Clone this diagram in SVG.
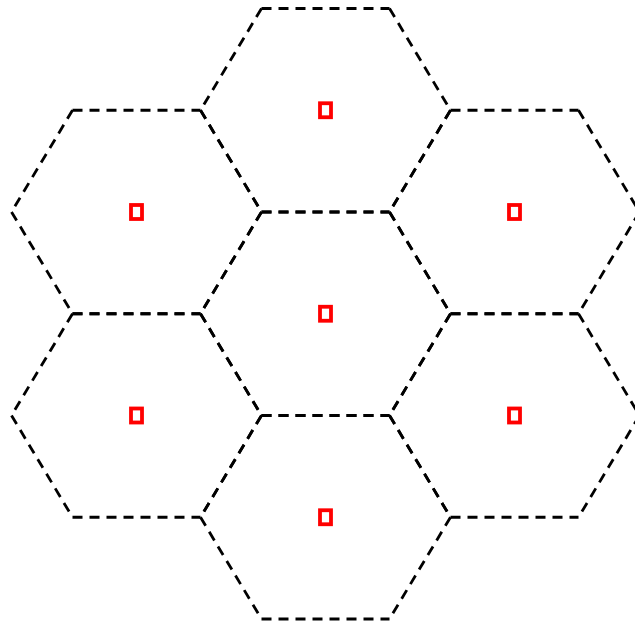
<svg xmlns="http://www.w3.org/2000/svg" xmlns:xlink="http://www.w3.org/1999/xlink" width="635" height="626" viewBox="0 0 635 626">
<style>
.hex{fill:none;stroke:#000;stroke-width:2.8;stroke-dasharray:10,7}
.mark{fill:none;stroke:#ff0000;stroke-width:3.8}
</style>
<defs>
<path id="hexshape" class="hex" d="M-64,-101.75 L64,-101.75 M64,-101.75 L125,0 M125,0 L64,101.75 M-64,101.75 L64,101.75 M-125,0 L-64,101.75 M-64,-101.75 L-125,0"/>
<rect id="marker" class="mark" x="-5.5" y="-7" width="11" height="14"/>
</defs>
<rect width="635" height="626" fill="#fff"/>
<g id="hex-top" transform="translate(325.5,110.25)"><use xlink:href="#hexshape"/><use xlink:href="#marker"/></g>
<g id="hex-upper-left" transform="translate(136.5,212)"><use xlink:href="#hexshape"/><use xlink:href="#marker"/></g>
<g id="hex-upper-right" transform="translate(514.5,212)"><use xlink:href="#hexshape"/><use xlink:href="#marker"/></g>
<g id="hex-center" transform="translate(325.5,313.75)"><use xlink:href="#hexshape"/><use xlink:href="#marker"/></g>
<g id="hex-lower-left" transform="translate(136.5,415.5)"><use xlink:href="#hexshape"/><use xlink:href="#marker"/></g>
<g id="hex-lower-right" transform="translate(514.5,415.5)"><use xlink:href="#hexshape"/><use xlink:href="#marker"/></g>
<g id="hex-bottom" transform="translate(325.5,517.25)"><use xlink:href="#hexshape"/><use xlink:href="#marker"/></g>
<g id="connectors"></g>
</svg>
